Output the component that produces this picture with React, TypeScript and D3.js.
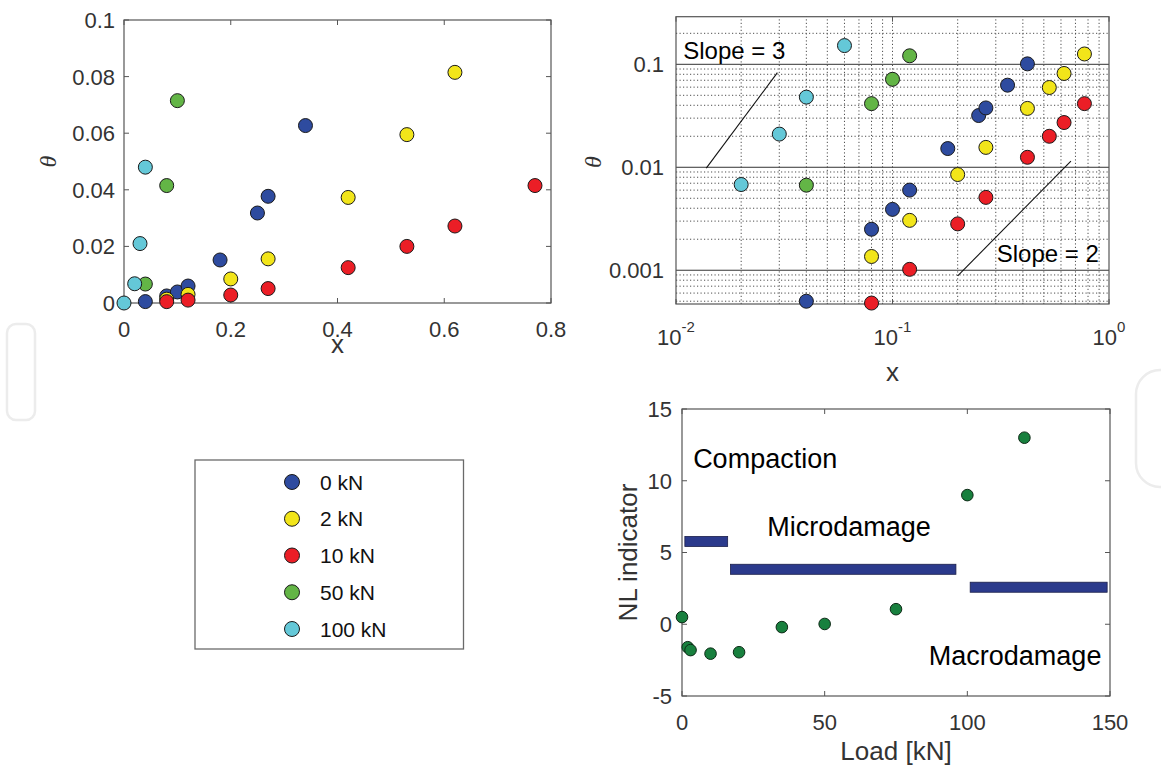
import React from 'react';
import * as d3 from 'd3';

// ---------- data ----------
const seriesNames = ['0 kN', '2 kN', '10 kN', '50 kN', '100 kN'];
const seriesColors = ['#2E4B9F', '#F2E51A', '#EB1E26', '#63B546', '#64C8D8'];

const x0kN = [0.04, 0.08, 0.1, 0.12, 0.18, 0.25, 0.27, 0.34, 0.42];
const t0kN = [0.0005, 0.0025, 0.0039, 0.006, 0.0152, 0.0318, 0.0377, 0.0627, 0.101];
const x2kN = [0.08, 0.12, 0.2, 0.27, 0.42, 0.53, 0.62, 0.77];
const t2kN = [0.00136, 0.00305, 0.0085, 0.0156, 0.0373, 0.0595, 0.0815, 0.126];
const x10kN = [0.08, 0.12, 0.2, 0.27, 0.42, 0.53, 0.62, 0.77];
const t10kN = [0.00048, 0.00102, 0.00282, 0.0051, 0.0125, 0.02, 0.0272, 0.0415];
const x50kN = [0.04, 0.08, 0.1, 0.12];
const t50kN = [0.0067, 0.0415, 0.0715, 0.121];
const x100kN = [0, 0.02, 0.03, 0.04, 0.06];
const t100kN = [0, 0.0068, 0.021, 0.048, 0.152];

const seriesX = [x0kN, x2kN, x10kN, x50kN, x100kN];
const seriesT = [t0kN, t2kN, t10kN, t50kN, t100kN];

const linXTicks = [0, 0.2, 0.4, 0.6, 0.8];
const linYTicks = [0, 0.02, 0.04, 0.06, 0.08, 0.1];
const logXTicks = [0.01, 0.1, 1];
const logXExp = ['-2', '-1', '0'];
const logYTicks = [0.001, 0.01, 0.1];
const logYLabels = ['0.001', '0.01', '0.1'];

const slope3 = { x: [0.0138, 0.0294], t: [0.0098, 0.083] };
const slope2 = { x: [0.2, 0.667], t: [0.00088, 0.0115] };

const loadKN = [0, 2, 3, 10, 20, 35, 50, 75, 100, 120];
const nlIndicator = [0.5, -1.6, -1.8, -2.05, -1.95, -0.2, 0.02, 1.05, 9.0, 13.0];
const barStart = [1, 17, 101];
const barEnd = [16, 96, 149];
const barLevel = [5.77, 3.83, 2.58];
const barThick = 0.7;
const nlXTicks = [0, 50, 100, 150];
const nlYTicks = [-5, 0, 5, 10, 15];

// ---------- style ----------
const FONT = '"Liberation Sans", Arial, sans-serif';
const AX = '#555';
const TXT = '#333';

const inside = (v: number, dom: number[]) => v >= Math.min(dom[0], dom[1]) && v <= Math.max(dom[0], dom[1]);

function Box({ x0, x1, y0, y1 }: { x0: number; x1: number; y0: number; y1: number }) {
  return <rect x={x0} y={y0} width={x1 - x0} height={y1 - y0} fill="none" stroke={AX} strokeWidth={1.2} />;
}

function LinearPlot() {
  const x = d3.scaleLinear().domain([0, 0.8]).range([124, 551]);
  const y = d3.scaleLinear().domain([0, 0.1]).range([303, 20]);
  const [X0, X1] = x.range();
  const [Y0, Y1] = y.range();
  const tl = 5;
  return (
    <g>
      <rect x={X0} y={Y1} width={X1 - X0} height={Y0 - Y1} fill="#fff" />
      {linXTicks.map((t) => (
        <g key={'xt' + t}>
          <line x1={x(t)} x2={x(t)} y1={Y0} y2={Y0 - tl} stroke={AX} />
          <line x1={x(t)} x2={x(t)} y1={Y1} y2={Y1 + tl} stroke={AX} />
          <text x={x(t)} y={Y0 + 34} textAnchor="middle" fontSize={22} fill={TXT} fontFamily={FONT}>
            {String(t)}
          </text>
        </g>
      ))}
      {linYTicks.map((t) => (
        <g key={'yt' + t}>
          <line x1={X0} x2={X0 + tl} y1={y(t)} y2={y(t)} stroke={AX} />
          <line x1={X1} x2={X1 - tl} y1={y(t)} y2={y(t)} stroke={AX} />
          <text x={X0 - 9} y={y(t)} dy="0.36em" textAnchor="end" fontSize={22} fill={TXT} fontFamily={FONT}>
            {String(t)}
          </text>
        </g>
      ))}
      <Box x0={X0} x1={X1} y0={Y1} y1={Y0} />
      {seriesX.map((xs, si) =>
        xs.map((xv, i) => {
          const tv = seriesT[si][i];
          if (!inside(xv, x.domain()) || !inside(tv, y.domain())) return null;
          return (
            <circle key={si + '-' + i} cx={x(xv)} cy={y(tv)} r={7} fill={seriesColors[si]} stroke="#1a1a1a" strokeWidth={1} />
          );
        })
      )}
      <text x={(X0 + X1) / 2} y={353} textAnchor="middle" fontSize={26} fill={TXT} fontFamily={FONT}>x</text>
      <text
        transform={`translate(56,${(Y0 + Y1) / 2}) rotate(-90)`}
        textAnchor="middle"
        fontSize={24}
        fontStyle="italic"
        fill={TXT}
        fontFamily='"Liberation Serif", "DejaVu Serif", serif'
      >
        θ
      </text>
    </g>
  );
}

function LogPlot() {
  const x = d3.scaleLog().domain([0.01, 1]).range([676, 1109]);
  const y = d3.scaleLog().domain([0.00047, 0.29]).range([304, 16.7]);
  const [X0, X1] = x.range();
  const [Y0, Y1] = y.range();
  const minorX: number[] = [];
  [0.01, 0.1].forEach((d) => {
    for (let k = 2; k <= 9; k++) minorX.push(d * k);
  });
  const minorY: number[] = [];
  [0.0001, 0.001, 0.01, 0.1].forEach((d) => {
    for (let k = 2; k <= 9; k++) {
      const v = d * k;
      if (inside(v, y.domain())) minorY.push(v);
    }
  });
  const dash = '1.2 2.3';
  const gridC = '#3a3a3a';
  const line = d3
    .line<[number, number]>()
    .x((d) => x(d[0]))
    .y((d) => y(d[1]));
  return (
    <g>
      <rect x={X0} y={Y1} width={X1 - X0} height={Y0 - Y1} fill="#fff" />
      {minorX.concat([0.1]).map((v) => (
        <line key={'gx' + v} x1={x(v)} x2={x(v)} y1={Y0} y2={Y1} stroke={gridC} strokeWidth={0.9} strokeDasharray={dash} />
      ))}
      {minorY.map((v) => (
        <line key={'gy' + v} x1={X0} x2={X1} y1={y(v)} y2={y(v)} stroke={gridC} strokeWidth={0.9} strokeDasharray={dash} />
      ))}
      {logYTicks.map((v) => (
        <line key={'gm' + v} x1={X0} x2={X1} y1={y(v)} y2={y(v)} stroke="#333" strokeWidth={1} />
      ))}
      {logXTicks.map((t, i) => (
        <g key={'xt' + t}>
          <line x1={x(t)} x2={x(t)} y1={Y0} y2={Y0 - 5} stroke={AX} />
          <line x1={x(t)} x2={x(t)} y1={Y1} y2={Y1 + 5} stroke={AX} />
          <text x={x(t)} y={345} textAnchor="middle" fontSize={22} fill={TXT} fontFamily={FONT}>
            10
            <tspan fontSize={15} dy={-13}>{logXExp[i]}</tspan>
          </text>
        </g>
      ))}
      {logYTicks.map((t, i) => (
        <text key={'yt' + t} x={X0 - 12} y={y(t)} dy="0.36em" textAnchor="end" fontSize={22} fill={TXT} fontFamily={FONT}>
          {logYLabels[i]}
        </text>
      ))}
      <Box x0={X0} x1={X1} y0={Y1} y1={Y0} />
      <path d={line(slope3.x.map((v, i) => [v, slope3.t[i]]) as any) || ''} stroke="#111" strokeWidth={1.1} fill="none" />
      <path d={line(slope2.x.map((v, i) => [v, slope2.t[i]]) as any) || ''} stroke="#111" strokeWidth={1.1} fill="none" />
      <text x={x(0.0108)} y={y(0.138)} dy="0.36em" fontSize={24} fill="#000" fontFamily={FONT}>Slope = 3</text>
      <text x={x(0.303)} y={y(0.00145)} dy="0.36em" fontSize={24} fill="#000" fontFamily={FONT}>Slope = 2</text>
      {seriesX.map((xs, si) =>
        xs.map((xv, i) => {
          const tv = seriesT[si][i];
          if (!inside(xv, x.domain()) || !inside(tv, y.domain())) return null;
          return (
            <circle key={si + '-' + i} cx={x(xv)} cy={y(tv)} r={7} fill={seriesColors[si]} stroke="#1a1a1a" strokeWidth={1} />
          );
        })
      )}
      <text x={(X0 + X1) / 2} y={381} textAnchor="middle" fontSize={26} fill={TXT} fontFamily={FONT}>x</text>
      <text
        transform={`translate(601,${162}) rotate(-90)`}
        textAnchor="middle"
        fontSize={24}
        fontStyle="italic"
        fill={TXT}
        fontFamily='"Liberation Serif", "DejaVu Serif", serif'
      >
        θ
      </text>
    </g>
  );
}

function Legend() {
  const x0 = 195, y0 = 460, x1 = 463.5, y1 = 649;
  return (
    <g>
      <rect x={x0} y={y0} width={x1 - x0} height={y1 - y0} fill="#fff" stroke="#6a6a6a" strokeWidth={1.3} />
      {seriesNames.map((n, i) => {
        const cy = 482 + i * 36.75;
        return (
          <g key={n}>
            <circle cx={292} cy={cy} r={7.5} fill={seriesColors[i]} stroke="#1a1a1a" strokeWidth={1} />
            <text x={320} y={cy} dy="0.36em" fontSize={21} fill="#111" fontFamily={FONT}>{n}</text>
          </g>
        );
      })}
    </g>
  );
}

function NLPlot() {
  const x = d3.scaleLinear().domain([0, 150]).range([682, 1110]);
  const y = d3.scaleLinear().domain([-5, 15]).range([696, 409]);
  const [X0, X1] = x.range();
  const [Y0, Y1] = y.range();
  return (
    <g>
      <rect x={X0} y={Y1} width={X1 - X0} height={Y0 - Y1} fill="#fff" />
      {nlXTicks.map((t) => (
        <g key={'xt' + t}>
          <line x1={x(t)} x2={x(t)} y1={Y0} y2={Y0 - 5} stroke={AX} />
          <line x1={x(t)} x2={x(t)} y1={Y1} y2={Y1 + 5} stroke={AX} />
          <text x={x(t)} y={730} textAnchor="middle" fontSize={22} fill={TXT} fontFamily={FONT}>{String(t)}</text>
        </g>
      ))}
      {nlYTicks.map((t) => (
        <g key={'yt' + t}>
          <line x1={X0} x2={X0 + 5} y1={y(t)} y2={y(t)} stroke={AX} />
          <line x1={X1} x2={X1 - 5} y1={y(t)} y2={y(t)} stroke={AX} />
          <text x={X0 - 10} y={y(t)} dy="0.36em" textAnchor="end" fontSize={22} fill={TXT} fontFamily={FONT}>{String(t)}</text>
        </g>
      ))}
      <Box x0={X0} x1={X1} y0={Y1} y1={Y0} />
      {barStart.map((s, i) => (
        <rect
          key={'b' + i}
          x={x(s)}
          y={y(barLevel[i] + barThick / 2)}
          width={x(barEnd[i]) - x(s)}
          height={y(barLevel[i] - barThick / 2) - y(barLevel[i] + barThick / 2)}
          fill="#2B3A8C"
          stroke="#1b1f4a"
          strokeWidth={0.8}
        />
      ))}
      {loadKN.map((l, i) => (
        <circle key={'p' + i} cx={x(l)} cy={y(nlIndicator[i])} r={5.8} fill="#18803E" stroke="#0d2a16" strokeWidth={1} />
      ))}
      <text x={x(3.9)} y={y(11.58)} dy="0.36em" fontSize={27} fill="#000" fontFamily={FONT}>Compaction</text>
      <text x={x(29.9)} y={y(6.81)} dy="0.36em" fontSize={27} fill="#000" fontFamily={FONT}>Microdamage</text>
      <text x={x(86.5)} y={y(-2.14)} dy="0.36em" fontSize={27} fill="#000" fontFamily={FONT}>Macrodamage</text>
      <text x={(X0 + X1) / 2} y={760} textAnchor="middle" fontSize={26} fill={TXT} fontFamily={FONT}>Load [kN]</text>
      <text
        transform={`translate(637,${(Y0 + Y1) / 2}) rotate(-90)`}
        textAnchor="middle"
        fontSize={26}
        fill={TXT}
        fontFamily={FONT}
      >
        NL indicator
      </text>
    </g>
  );
}

export default function App() {
  return (
    <div style={{ position: 'absolute', left: 0, top: 0 }}>
      <svg width={1161} height={770} viewBox="0 0 1161 770" style={{ display: 'block', background: '#fff' }}>
        <rect width={1161} height={770} fill="#fff" />
        {/* faint background watermark shapes */}
        <rect x={7} y={324} width={28} height={96} rx={9} fill="none" stroke="#ececec" strokeWidth={2.5} />
        <rect x={1136} y={370} width={60} height={117} rx={24} fill="none" stroke="#ececec" strokeWidth={2.5} />
        <LinearPlot />
        <LogPlot />
        <Legend />
        <NLPlot />
      </svg>
    </div>
  );
}
